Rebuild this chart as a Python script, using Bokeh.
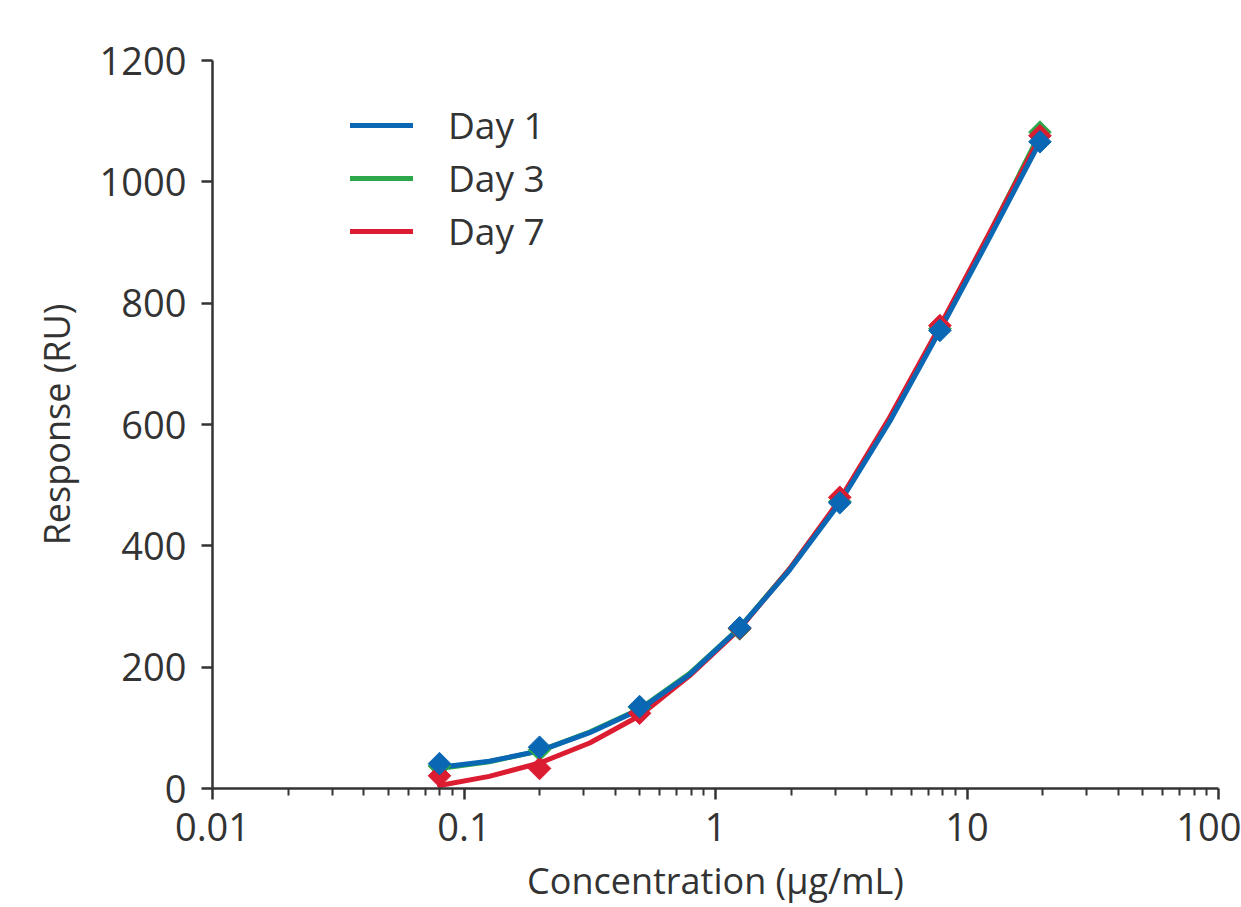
import math
from bokeh.plotting import figure
from bokeh.models import FixedTicker, CustomJSTickFormatter, Legend, LegendItem, Range1d
from bokeh.embed import file_html
from bokeh.resources import INLINE

# measured points
concentration = [0.0799, 0.1997, 0.499, 1.248, 3.12, 7.8, 19.5]
day1_response = [41, 68, 135, 265, 471, 755, 1066]
day3_response = [37, 64, 134, 263, 473, 758, 1082]
day7_response = [21, 33, 124, 264, 480, 763, 1076]

# fitted curves
fit_concentration = [0.0799, 0.126, 0.1997, 0.316, 0.499, 0.79, 1.248, 1.97, 3.12, 4.93, 7.8, 12.3, 19.5]
day1_fit = [35, 45, 62, 92, 130, 188, 265, 360, 471, 605, 755, 908, 1066]
day3_fit = [33, 44, 62, 93, 131, 190, 265, 362, 474, 610, 760, 915, 1080]
day7_fit = [5, 20, 42, 75, 120, 186, 263, 362, 476, 612, 762, 916, 1074]

series_names = ["Day 1", "Day 3", "Day 7"]
colors = {"Day 1": "#0a67b4", "Day 3": "#2ca84a", "Day 7": "#dc1c30"}

x_major = [0.01, 0.1, 1, 10, 100]
y_major = [0, 200, 400, 600, 800, 1000, 1200]

FONT = "Open Sans"
TXT = "#333333"

p = figure(width=1241, height=907, x_axis_type="log",
           x_range=Range1d(0.01, 100), y_range=Range1d(0, 1200),
           output_backend="svg", toolbar_location=None,
           min_border_left=212, min_border_right=23,
           min_border_top=60, min_border_bottom=119)
p.outline_line_color = None
p.grid.visible = False

minor = [m * d for d in x_major[:-1] for m in range(2, 10)]
p.xaxis.ticker = FixedTicker(ticks=x_major, minor_ticks=minor)
p.xaxis.formatter = CustomJSTickFormatter(code="return String(tick);")
p.yaxis.ticker = FixedTicker(ticks=y_major)

for ax in (p.xaxis[0], p.yaxis[0]):
    ax.axis_line_color = TXT
    ax.axis_line_width = 2.5
    ax.major_tick_line_color = TXT
    ax.major_tick_line_width = 2.5
    ax.major_tick_in = 0
    ax.major_tick_out = 11
    ax.major_label_text_font = FONT
    ax.major_label_text_font_size = "38px"
    ax.major_label_text_color = TXT
    ax.axis_label_text_font = FONT
    ax.axis_label_text_font_size = "36px"
    ax.axis_label_text_font_style = "normal"
    ax.axis_label_text_color = TXT

p.xaxis.minor_tick_line_color = TXT
p.xaxis.minor_tick_line_width = 2
p.xaxis.minor_tick_in = 0
p.xaxis.minor_tick_out = 7
p.yaxis.minor_tick_line_color = None
p.xaxis.major_label_standoff = 13
p.yaxis.major_label_standoff = 15
p.xaxis.axis_label = "Concentration (µg/mL)"
p.yaxis.axis_label = "Response (RU)"
p.xaxis.axis_label_standoff = 12
p.yaxis.axis_label_standoff = 16

fits = {"Day 1": day1_fit, "Day 3": day3_fit, "Day 7": day7_fit}
pts = {"Day 1": day1_response, "Day 3": day3_response, "Day 7": day7_response}

line_r = {}
draw_order = ["Day 3", "Day 7", "Day 1"]
for name in draw_order:
    c = colors[name]
    line_r[name] = p.line(fit_concentration, fits[name], line_color=c, line_width=5,
                          line_cap="round", line_join="round")
for name in draw_order:
    c = colors[name]
    p.scatter(concentration, pts[name], marker="square", size=16, angle=math.pi / 4,
              fill_color=c, line_color=c, line_width=1)

legend = Legend(items=[LegendItem(label=n, renderers=[line_r[n]]) for n in series_names],
                location=(138, 532), orientation="vertical",
                border_line_color=None, background_fill_alpha=0,
                padding=0, margin=0, spacing=2,
                glyph_width=63, glyph_height=50, label_height=50,
                label_standoff=35,
                label_text_font=FONT, label_text_font_size="37px",
                label_text_color=TXT)
p.add_layout(legend, "center")

open("out.html", "w").write(file_html(p, INLINE))
